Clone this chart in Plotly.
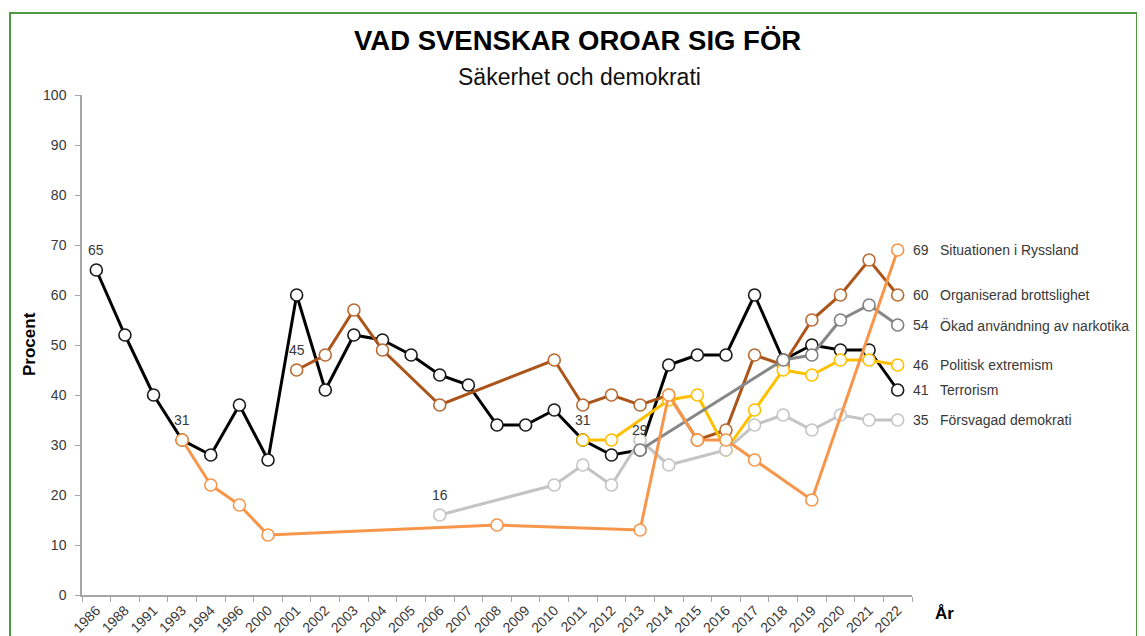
import plotly.graph_objects as go

years = ["1986", "1988", "1991", "1993", "1994", "1996", "2000", "2001", "2002", "2003",
         "2004", "2005", "2006", "2007", "2008", "2009", "2010", "2011", "2012", "2013",
         "2014", "2015", "2016", "2017", "2018", "2019", "2020", "2021", "2022"]

terrorism = [65, 52, 40, 31, 28, 38, 27, 60, 41, 52, 51, 48, 44, 42, 34, 34, 37, 31, 28, 29,
             46, 48, 48, 60, 47, 50, 49, 49, 41]
org_brott = [None, None, None, None, None, None, None, 45, 48, 57, 49, None, 38, None, None, None,
             47, 38, 40, 38, 40, 31, 33, 48, 46, 55, 60, 67, 60]
ryssland = [None, None, None, 31, 22, 18, 12, None, None, None, None, None, None, None, 14, None,
            None, None, None, 13, 40, 31, 31, 27, None, 19, None, None, 69]
extremism = [None] * 17 + [31, 31, None, 39, 40, 29, 37, 45, 44, 47, 47, 46]
narkotika = [None] * 19 + [29, None, None, None, None, 47, 48, 55, 58, 54]
demokrati = [None] * 12 + [16, None, None, None, 22, 26, 22, 31, 26, None, 29, 34, 36, 33, 36, 35, 35]

series_names = ["Terrorism", "Organiserad brottslighet", "Politisk extremism",
                "Försvagad demokrati", "Ökad användning av narkotika", "Situationen i Ryssland"]
series_values = [terrorism, org_brott, extremism, demokrati, narkotika, ryssland]
series_colors = ["#000000", "#AC551A", "#FFC000", "#C4C4C4", "#878787", "#F7964A"]
marker_colors = ["#1A1A1A", "#B86A33", "#FFC000", "#C4C4C4", "#7F7F7F", "#F7964A"]

# start labels: (series index, year)
start_labels = [(0, "1986"), (5, "1993"), (1, "2001"), (3, "2006"), (2, "2011"), (4, "2013")]

TXT = "#383838"
FONT = "Liberation Sans, Arial, sans-serif"

# plot area (page pixels): x 82..912, y 95..595 ; page body has an 8px margin
PL, PR, PT, PB = 82, 912, 95, 595
OFF = 8
PW, PH = PR - PL, PB - PT


def px(x):
    return (x - PL) / PW


def py(y):
    return (PB - y) / PH


fig = go.Figure()
for name, vals, col, mcol in zip(series_names, series_values, series_colors, marker_colors):
    fig.add_trace(go.Scatter(
        x=years, y=vals, name=name, mode="lines+markers", connectgaps=True,
        line=dict(color=col, width=3),
        marker=dict(size=12, color="white", line=dict(color=mcol, width=1.6)),
        showlegend=False, hoverinfo="x+y+name",
    ))

annotations = []
for si, yr in start_labels:
    i = years.index(yr)
    v = series_values[si][i]
    annotations.append(dict(x=i, y=v, xref="x", yref="y", text=str(v), showarrow=False,
                            xanchor="center", yanchor="middle",
                            yshift=20, font=dict(size=14, color=TXT, family=FONT)))

last = len(years) - 1
for name, vals in zip(series_names, series_values):
    v = vals[-1]
    annotations.append(dict(x=last, y=v, xref="x", yref="y", text=str(v), showarrow=False,
                            xanchor="left", yanchor="middle", xshift=13,
                            font=dict(size=14, color=TXT, family=FONT)))
    annotations.append(dict(x=last, y=v, xref="x", yref="y", text=name, showarrow=False,
                            xanchor="left", yanchor="middle", xshift=40,
                            font=dict(size=14, color=TXT, family=FONT)))

# titles
annotations.append(dict(x=px(577), y=py(41), xref="paper", yref="paper",
                        xanchor="center", yanchor="middle",
                        text="<b>VAD SVENSKAR OROAR SIG FÖR</b>", showarrow=False,
                        font=dict(size=27.5, color="#000000", family=FONT)))
annotations.append(dict(x=px(579), y=py(77), xref="paper", yref="paper",
                        xanchor="center", yanchor="middle",
                        text="Säkerhet och demokrati", showarrow=False,
                        font=dict(size=23, color="#111111", family=FONT)))
annotations.append(dict(x=px(29), y=py(344), xref="paper", yref="paper",
                        xanchor="center", yanchor="middle",
                        text="<b>Procent</b>", showarrow=False, textangle=-90,
                        font=dict(size=17, color="#000000", family=FONT)))
annotations.append(dict(x=px(944), y=py(613), xref="paper", yref="paper",
                        xanchor="center", yanchor="middle",
                        text="<b>År</b>", showarrow=False,
                        font=dict(size=17, color="#000000", family=FONT)))

fig.update_layout(
    width=1145, height=636,
    margin=dict(l=PL - OFF, r=1145 - (PR - OFF), t=PT - OFF, b=636 - (PB - OFF)),
    paper_bgcolor="white", plot_bgcolor="white",
    font=dict(family=FONT, color=TXT),
    annotations=annotations,
    shapes=[dict(type="rect", xref="paper", yref="paper",
                 x0=px(10), x1=px(1137), y0=py(680), y1=py(13),
                 line=dict(color="#4E9A3F", width=2), fillcolor="rgba(0,0,0,0)", layer="below")],
)
fig.update_xaxes(
    type="category", categoryorder="array", categoryarray=years,
    range=[-0.5, len(years) - 0.5],
    showline=True, linecolor="#A6A6A6", linewidth=1.5,
    ticks="outside", tickson="boundaries", ticklen=5, tickcolor="#A6A6A6",
    tickangle=-45, tickfont=dict(size=14, color=TXT, family=FONT),
    showgrid=False, zeroline=False, automargin=False,
)
fig.update_yaxes(
    range=[0, 100], dtick=10, tick0=0,
    showline=True, linecolor="#A6A6A6", linewidth=1.5,
    ticks="outside", ticklen=5, tickcolor="#A6A6A6", ticklabelstandoff=6,
    tickfont=dict(size=14, color=TXT, family=FONT),
    showgrid=False, zeroline=False, automargin=False,
)

fig.write_html("out.html")
